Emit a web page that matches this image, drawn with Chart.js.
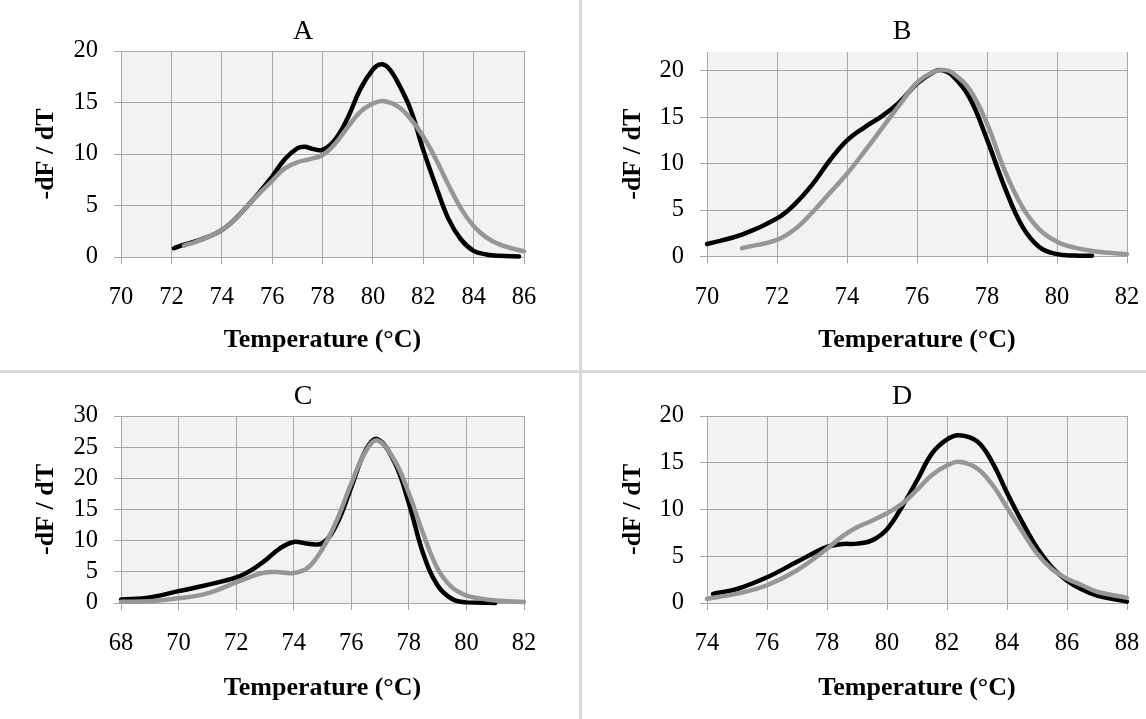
<!DOCTYPE html>
<html>
<head>
<meta charset="utf-8">
<script src="https://cdn.jsdelivr.net/npm/chart.js@4.4.0/dist/chart.umd.min.js"></script>
<style>
  html, body { margin: 0; padding: 0; background: #fff; overflow: hidden; }
  body { width: 1146px; height: 719px; position: relative; }
  canvas { position: absolute; }
  .linha { position: absolute; background: #d9d9d9; }
</style>
</head>
<body>
<div class="linha" style="left:579px; top:0; width:3px; height:719px"></div>
<div class="linha" style="left:0; top:370px; width:1146px; height:3px"></div>
<canvas id="graficoA" width="606" height="370" style="left:0; top:0"></canvas>
<canvas id="graficoB" width="638" height="370" style="left:583px; top:0"></canvas>
<canvas id="graficoC" width="606" height="346" style="left:0; top:373px"></canvas>
<canvas id="graficoD" width="638" height="346" style="left:583px; top:373px"></canvas>
<script>
// dados (temperatura em °C, -dF/dT)
const tempA_preto = [72.1, 72.5, 73, 73.5, 74, 74.5, 75, 75.5, 76, 76.5, 77, 77.3, 77.6, 78, 78.5, 79, 79.5, 80, 80.3, 80.6, 81, 81.5, 82, 82.5, 83, 83.5, 84, 84.5, 85, 85.8];
const dfA_preto   = [0.85, 1.2, 1.55, 2.0, 2.6, 3.6, 4.9, 6.3, 7.8, 9.5, 10.55, 10.7, 10.5, 10.4, 11.4, 13.5, 16.3, 18.2, 18.7, 18.4, 16.9, 14.3, 10.4, 6.9, 3.7, 1.7, 0.6, 0.25, 0.12, 0.06];
const tempA_cinza = [72.5, 73, 73.5, 74, 74.5, 75, 75.5, 76, 76.5, 77, 77.5, 78, 78.5, 79, 79.5, 80, 80.4, 81, 81.5, 82, 82.5, 83, 83.5, 84, 84.5, 85, 85.5, 86];
const dfA_cinza   = [1.1, 1.5, 2.0, 2.6, 3.6, 4.9, 6.2, 7.4, 8.6, 9.2, 9.5, 9.9, 11.0, 12.6, 14.1, 14.9, 15.15, 14.6, 13.4, 11.7, 9.5, 7.0, 4.7, 3.0, 1.9, 1.25, 0.85, 0.55];

const tempB_preto = [70, 71, 72, 72.5, 73, 73.5, 74, 74.5, 75, 75.5, 76, 76.5, 76.7, 77, 77.5, 78, 78.5, 79, 79.5, 80, 80.5, 81];
const dfB_preto   = [1.35, 2.35, 4.1, 5.6, 7.7, 10.3, 12.5, 13.9, 15.1, 16.6, 18.6, 19.9, 20.05, 19.5, 17.1, 12.6, 7.5, 3.3, 1.0, 0.25, 0.1, 0.08];
const tempB_cinza = [71, 72, 72.5, 73, 73.5, 74, 74.5, 75, 75.5, 76, 76.5, 76.8, 77, 77.5, 78, 78.5, 79, 79.5, 80, 80.5, 81, 81.5, 82];
const dfB_cinza   = [0.9, 1.8, 2.9, 4.7, 6.8, 8.9, 11.3, 13.8, 16.3, 18.7, 19.9, 20.05, 19.8, 18.0, 14.3, 9.3, 5.4, 2.9, 1.6, 0.95, 0.6, 0.4, 0.25];

const tempC_preto = [68, 69, 70, 71, 72, 72.5, 73, 73.5, 74, 74.5, 75, 75.5, 76, 76.5, 76.9, 77.5, 78, 78.5, 79, 79.5, 80, 81];
const dfC_preto   = [0.55, 0.9, 1.9, 2.9, 4.1, 5.2, 6.8, 8.7, 9.8, 9.5, 9.6, 12.7, 18.6, 24.5, 26.3, 22.6, 16.0, 7.9, 2.8, 0.65, 0.1, 0.02];
const tempC_cinza = [68, 69, 70, 71, 72, 72.5, 73, 73.5, 74, 74.5, 75, 75.5, 76, 76.5, 76.9, 77.5, 78, 78.5, 79, 79.5, 80, 80.5, 81, 82];
const dfC_cinza   = [0.2, 0.3, 0.75, 1.55, 3.3, 4.2, 4.9, 4.95, 4.8, 5.7, 8.7, 13.3, 19.2, 24.3, 26.1, 22.9, 17.6, 11.1, 5.5, 2.5, 1.2, 0.7, 0.4, 0.15];

const tempD_preto = [74.2, 75, 76, 77, 78, 78.5, 79, 79.5, 80, 80.5, 81, 81.5, 82, 82.4, 83, 83.5, 84, 84.5, 85, 85.5, 86, 86.5, 87, 88];
const dfD_preto   = [0.97, 1.5, 2.75, 4.4, 6.0, 6.3, 6.35, 6.7, 7.9, 10.3, 13.1, 16.0, 17.5, 17.95, 17.3, 15.1, 11.8, 8.7, 5.9, 3.8, 2.4, 1.45, 0.8, 0.15];
const tempD_cinza = [74, 75, 76, 77, 78, 78.5, 79, 79.5, 80, 80.5, 81, 81.5, 82, 82.4, 83, 83.5, 84, 84.5, 85, 85.5, 86, 86.5, 87, 88];
const dfD_cinza   = [0.45, 1.0, 1.9, 3.5, 5.8, 7.1, 8.1, 8.8, 9.6, 10.6, 12.1, 13.7, 14.7, 15.1, 14.4, 12.7, 10.2, 7.7, 5.3, 3.6, 2.6, 1.9, 1.2, 0.55];

// marcas dos eixos
const ticksXA = [70, 72, 74, 76, 78, 80, 82, 84, 86];
const ticksXB = [70, 72, 74, 76, 78, 80, 82];
const ticksXC = [68, 70, 72, 74, 76, 78, 80, 82];
const ticksXD = [74, 76, 78, 80, 82, 84, 86, 88];
const ticksY20 = [0, 5, 10, 15, 20];
const ticksY30 = [0, 5, 10, 15, 20, 25, 30];

const FONTE = "'Liberation Serif', 'Times New Roman', serif";
const CINZA_GRADE = '#a6a6a6';

const fundoPlot = {
  id: 'fundoPlot',
  beforeDraw(chart) {
    const { ctx, chartArea: a } = chart;
    ctx.save();
    ctx.fillStyle = '#f2f2f2';
    ctx.fillRect(a.left, a.top, a.right - a.left, a.bottom - a.top);
    ctx.restore();
  }
};

function pares(xs, ys) {
  return xs.map((x, i) => ({ x: x, y: ys[i] }));
}

function serie(xs, ys, cor, ordem) {
  return {
    data: pares(xs, ys),
    borderColor: cor,
    borderWidth: 4.5,
    pointRadius: 0,
    fill: false,
    tension: 0.4,
    borderCapStyle: 'round',
    borderJoinStyle: 'round',
    clip: false,
    order: ordem
  };
}

function criarGrafico(id, p) {
  new Chart(document.getElementById(id), {
    type: 'line',
    data: {
      datasets: [
        serie(p.tPreto, p.dfPreto, '#000000', 2),
        serie(p.tCinza, p.dfCinza, '#969696', 1)
      ]
    },
    options: {
      responsive: false,
      animation: false,
      devicePixelRatio: 1,
      layout: { padding: 0 },
      plugins: {
        legend: { display: false },
        tooltip: { enabled: false },
        title: {
          display: true,
          text: p.titulo,
          color: '#000',
          font: { family: FONTE, size: 28, weight: 'normal' },
          padding: { top: p.padTopo, bottom: p.padBaixo }
        }
      },
      scales: {
        x: {
          type: 'linear',
          min: p.xTicks[0],
          max: p.xTicks[p.xTicks.length - 1],
          afterBuildTicks: s => { s.ticks = p.xTicks.map(v => ({ value: v })); },
          afterFit: s => { s.height = p.alturaX; },
          grid: { color: CINZA_GRADE, lineWidth: 1, tickLength: 7, tickColor: CINZA_GRADE },
          border: { color: CINZA_GRADE, width: 1 },
          ticks: { color: '#000', font: { family: FONTE, size: 24.5 }, padding: 19, maxRotation: 0, autoSkip: false },
          title: {
            display: true, text: 'Temperature (°C)', color: '#000',
            font: { family: FONTE, size: 26, weight: 'bold' },
            padding: { top: 0, bottom: p.padTituloX }
          }
        },
        y: {
          type: 'linear',
          min: 0,
          max: p.yMax,
          afterBuildTicks: s => { s.ticks = p.yTicks.map(v => ({ value: v })); },
          afterFit: s => { s.width = p.larguraY; },
          grid: { color: CINZA_GRADE, lineWidth: 1, tickLength: 7, tickColor: CINZA_GRADE },
          border: { color: CINZA_GRADE, width: 1 },
          ticks: { color: '#000', font: { family: FONTE, size: 24.5 }, padding: 16, autoSkip: false },
          title: {
            display: true, text: '-dF / dT', color: '#000',
            font: { family: FONTE, size: 26, weight: 'bold' },
            padding: { top: p.padTituloY, bottom: 0 }
          }
        },
        direita: {
          type: 'linear',
          position: 'right',
          grid: { display: false },
          ticks: { display: false },
          border: { display: false },
          afterFit: s => { s.width = p.larguraDireita; }
        }
      }
    },
    plugins: [fundoPlot]
  });
}

criarGrafico('graficoA', {
  titulo: 'A', tPreto: tempA_preto, dfPreto: dfA_preto, tCinza: tempA_cinza, dfCinza: dfA_cinza,
  xTicks: ticksXA, yTicks: ticksY20, yMax: 20,
  larguraY: 121, larguraDireita: 82, alturaX: 113,
  padTopo: 15.2, padBaixo: 2.2, padTituloX: 14.4, padTituloY: 30.4
});
criarGrafico('graficoB', {
  titulo: 'B', tPreto: tempB_preto, dfPreto: dfB_preto, tCinza: tempB_cinza, dfCinza: dfB_cinza,
  xTicks: ticksXB, yTicks: ticksY20, yMax: 22,
  larguraY: 124, larguraDireita: 94, alturaX: 113.5,
  padTopo: 15.2, padBaixo: 3.2, padTituloX: 14.4, padTituloY: 34.4
});
criarGrafico('graficoC', {
  titulo: 'C', tPreto: tempC_preto, dfPreto: dfC_preto, tCinza: tempC_cinza, dfCinza: dfC_cinza,
  xTicks: ticksXC, yTicks: ticksY30, yMax: 30,
  larguraY: 121, larguraDireita: 82, alturaX: 116,
  padTopo: 7.2, padBaixo: 2.2, padTituloX: 15.4, padTituloY: 30.4
});
criarGrafico('graficoD', {
  titulo: 'D', tPreto: tempD_preto, dfPreto: dfD_preto, tCinza: tempD_cinza, dfCinza: dfD_cinza,
  xTicks: ticksXD, yTicks: ticksY20, yMax: 20,
  larguraY: 124, larguraDireita: 94, alturaX: 116,
  padTopo: 7.2, padBaixo: 2.2, padTituloX: 15.4, padTituloY: 34.4
});
</script>
</body>
</html>
